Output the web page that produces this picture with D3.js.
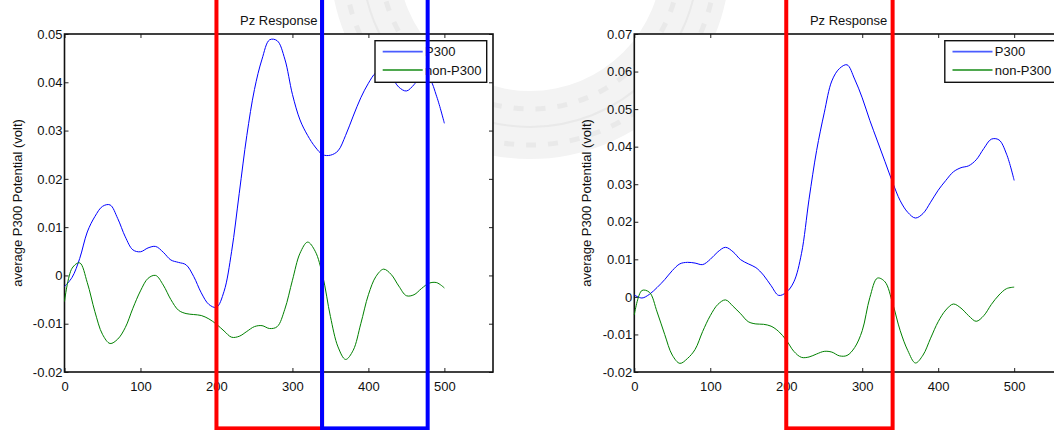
<!DOCTYPE html>
<html>
<head>
<meta charset="utf-8">
<script src="https://cdn.jsdelivr.net/npm/d3@7"></script>
<style>
  html, body { margin: 0; padding: 0; background: #fff; }
  svg { display: block; font-family: "Liberation Sans", Arial, Helvetica, sans-serif; }
</style>
</head>
<body>
<svg id="chart" width="1054" height="430"></svg>
<script>
// Sample times (ms after stimulus onset)
const timeMs = [0,10,20,30,40,50,60,70,80,90,100,110,120,130,140,150,160,170,180,190,200,
  210,220,230,240,250,260,270,280,290,300,310,320,330,340,350,360,370,380,390,400,
  410,420,430,440,450,460,470,480,490,500];

// Averaged Pz potentials (volt), first subject panel
const leftP300 = [-0.0023,-0.0004,0.0035,0.0090,0.0122,0.0143,0.0146,0.0118,0.0080,0.0053,0.0049,
  0.0057,0.0060,0.0048,0.0032,0.0027,0.0022,-0.0002,-0.0036,-0.0060,-0.0066,
  -0.0033,0.0050,0.0170,0.0290,0.0385,0.0448,0.0488,0.0486,0.0448,0.0375,
  0.0322,0.0290,0.0266,0.0250,0.0249,0.0258,0.0290,0.0330,0.0368,0.0398,
  0.0420,0.0425,0.0412,0.0390,0.0382,0.0395,0.0415,0.0408,0.0370,0.0315];
const leftNonP300 = [-0.0054,0.0015,0.0026,-0.0015,-0.0075,-0.0122,-0.0141,-0.0132,-0.0108,-0.0068,-0.0032,
  -0.0006,0.0000,-0.0020,-0.0050,-0.0072,-0.0079,-0.0081,-0.0083,-0.0090,-0.0101,
  -0.0115,-0.0128,-0.0126,-0.0116,-0.0106,-0.0104,-0.0110,-0.0106,-0.0070,-0.0010,
  0.0046,0.0069,0.0050,-0.0002,-0.0085,-0.0148,-0.0174,-0.0155,-0.0100,-0.0040,
  -0.0002,0.0013,0.0002,-0.0022,-0.0042,-0.0040,-0.0027,-0.0016,-0.0015,-0.0026];

// Averaged Pz potentials (volt), second subject panel
const rightP300 = [0.0005,-0.0003,0.0007,0.0025,0.0046,0.0070,0.0088,0.0092,0.0090,0.0086,0.0100,
  0.0120,0.0132,0.0120,0.0099,0.0088,0.0078,0.0058,0.0030,0.0004,0.0012,
  0.0040,0.0115,0.0260,0.0390,0.0490,0.0575,0.0608,0.0618,0.0580,0.0530,
  0.0470,0.0415,0.0360,0.0305,0.0256,0.0225,0.0210,0.0222,0.0252,0.0284,
  0.0310,0.0333,0.0344,0.0349,0.0365,0.0395,0.0420,0.0418,0.0380,0.0310];
const rightNonP300 = [-0.0048,0.0017,0.0012,-0.0040,-0.0100,-0.0155,-0.0177,-0.0164,-0.0140,-0.0092,-0.0050,
  -0.0020,-0.0008,-0.0025,-0.0045,-0.0066,-0.0072,-0.0073,-0.0078,-0.0092,-0.0115,
  -0.0145,-0.0161,-0.0160,-0.0152,-0.0145,-0.0147,-0.0157,-0.0156,-0.0135,-0.0090,
  -0.0002,0.0050,0.0040,-0.0017,-0.0090,-0.0143,-0.0176,-0.0155,-0.0110,-0.0066,
  -0.0035,-0.0019,-0.0030,-0.0050,-0.0065,-0.0050,-0.0020,0.0005,0.0022,0.0026];

// Axis ticks
const xTicks = [0,100,200,300,400,500];
const leftYTicks = [-0.02,-0.01,0,0.01,0.02,0.03,0.04,0.05];
const rightYTicks = [-0.02,-0.01,0,0.01,0.02,0.03,0.04,0.05,0.06,0.07];

// Highlighted analysis windows (ms)
const leftWindows = [[200,339],[339,478]];
const rightWindows = [[200,340]];

const seriesNames = ["P300","non-P300"];
const titleText = "Pz Response";
const yLabelText = "average P300 Potential (volt)";

// Styling
const seriesColors = ["#0000ff","#008000"];
const legendColors = ["#4a5cff","#4fa84f"];
const windowColors = ["#ff0000","#0000ff"];
const FONT = 13;

const svg = d3.select("#chart");

// Faint seal watermark behind the figure
const seal = svg.append("g").attr("transform", "translate(530,-41)");
seal.append("path")
  .attr("d", d3.arc()({innerRadius: 132, outerRadius: 200, startAngle: 0, endAngle: 2*Math.PI}))
  .attr("fill", "#f3f3f3");
[150, 168, 186].forEach((r, i) => {
  seal.append("circle").attr("r", r).attr("fill", "none")
    .attr("stroke", "#e9e9e9").attr("stroke-width", i === 1 ? 2 : 5)
    .attr("stroke-dasharray", i === 1 ? "none" : "10 12");
});

function panel(cfg) {
  const x = d3.scaleLinear().domain([0, 564]).range([cfg.left, cfg.left + 428.5]);
  const y = d3.scaleLinear().domain(cfg.yDomain).range([372, 34]);
  const g = svg.append("g");

  // white axes background
  g.append("rect")
    .attr("x", x.range()[0]).attr("y", 34)
    .attr("width", x.range()[1] - x.range()[0]).attr("height", 338)
    .attr("fill", "#fff");

  // ticks on all four sides, pointing inward
  const tickStyle = sel => {
    sel.select(".domain").remove();
    sel.selectAll(".tick line").attr("stroke", "#222").attr("stroke-width", 1);
    sel.selectAll("text").attr("fill", "#111").attr("font-size", FONT)
      .attr("font-family", "'Liberation Sans', Arial, sans-serif");
  };
  const fmtY = v => Math.abs(v) < 1e-12 ? "0" : v.toFixed(2);

  g.append("g").attr("transform", `translate(0,372)`)
    .call(d3.axisBottom(x).tickValues(xTicks).tickSizeInner(-4).tickSizeOuter(0).tickPadding(10).tickFormat(d3.format("d")))
    .call(tickStyle);
  g.append("g").attr("transform", `translate(0,34)`)
    .call(d3.axisTop(x).tickValues(xTicks).tickSizeInner(-4).tickSizeOuter(0).tickFormat(""))
    .call(tickStyle);
  g.append("g").attr("transform", `translate(${x.range()[0]},0)`)
    .call(d3.axisLeft(y).tickValues(cfg.yTicks).tickSizeInner(-4).tickSizeOuter(0).tickPadding(2).tickFormat(fmtY))
    .call(tickStyle);
  g.append("g").attr("transform", `translate(${x.range()[1]},0)`)
    .call(d3.axisRight(y).tickValues(cfg.yTicks).tickSizeInner(-4).tickSizeOuter(0).tickFormat(""))
    .call(tickStyle);

  // axes box
  g.append("rect")
    .attr("x", x.range()[0]).attr("y", 34)
    .attr("width", x.range()[1] - x.range()[0]).attr("height", 338)
    .attr("fill", "none").attr("stroke", "#111").attr("stroke-width", 1.6);

  // curves
  const line = d3.line()
    .x((d, i) => x(timeMs[i]))
    .y(d => y(d))
    .curve(d3.curveCatmullRom.alpha(0.5));
  [cfg.p300, cfg.nonP300].forEach((vals, k) => {
    g.append("path").datum(vals)
      .attr("d", line)
      .attr("fill", "none")
      .attr("stroke", seriesColors[k])
      .attr("stroke-width", 1);
  });

  // title and y label
  const cx = (x.range()[0] + x.range()[1]) / 2;
  g.append("text").attr("x", cx).attr("y", 24.5)
    .attr("text-anchor", "middle").attr("font-size", FONT).attr("fill", "#111")
    .text(titleText);
  g.append("text")
    .attr("transform", `translate(${cfg.left - 43},203) rotate(-90)`)
    .attr("text-anchor", "middle").attr("font-size", FONT).attr("fill", "#111")
    .text(yLabelText);

  // legend
  const lx = x.range()[0] + 310.5, ly = 40.7;
  const lg = g.append("g").attr("transform", `translate(${lx},${ly})`);
  lg.append("rect").attr("width", 111.7).attr("height", 41.6)
    .attr("fill", "#fff").attr("stroke", "#111").attr("stroke-width", 1.4);
  seriesNames.forEach((name, k) => {
    const yy = 11 + k * 18.3;
    lg.append("line").attr("x1", 7.7).attr("x2", 47.7).attr("y1", yy).attr("y2", yy)
      .attr("stroke", legendColors[k]).attr("stroke-width", 1.8);
    lg.append("text").attr("x", 50).attr("y", yy + 4.6)
      .attr("font-size", FONT).attr("fill", "#111").text(name);
  });

  // analysis windows drawn on top
  cfg.windows.forEach((w, k) => {
    g.append("rect")
      .attr("x", x(w[0])).attr("y", -10)
      .attr("width", x(w[1]) - x(w[0])).attr("height", 428.4 + 10)
      .attr("fill", "none")
      .attr("stroke", windowColors[k])
      .attr("stroke-width", 4);
  });
}

panel({ left: 64.5, yDomain: [-0.02, 0.05], yTicks: leftYTicks,
        p300: leftP300, nonP300: leftNonP300, windows: leftWindows });
panel({ left: 634.3, yDomain: [-0.02, 0.07], yTicks: rightYTicks,
        p300: rightP300, nonP300: rightNonP300, windows: rightWindows });
</script>
</body>
</html>
